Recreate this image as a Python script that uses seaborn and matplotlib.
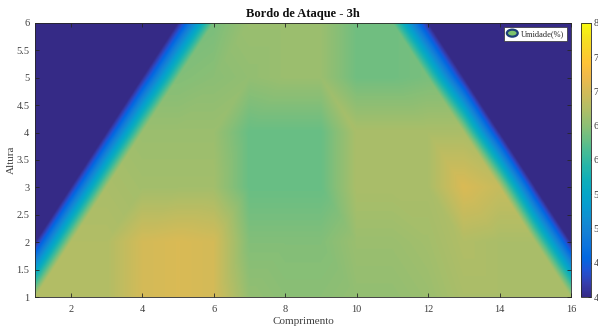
import numpy as np
import seaborn as sns
import matplotlib
matplotlib.use("Agg")
import matplotlib.pyplot as plt
import matplotlib.tri as mtri
from matplotlib.patches import Ellipse
from matplotlib.legend_handler import HandlerPatch

# Measurement grid: x = comprimento (1..16), y = altura (1..6)
comprimento = np.arange(1, 17)
altura = np.arange(1, 7)

# Humidity (%) at each node, one list per height; 4.0 marks points outside the leading edge
umidade_h1 = [6.75, 6.75, 6.75, 7.00, 7.05, 7.00, 6.55, 6.50, 6.50, 6.55, 6.55, 6.60, 6.70, 6.70, 6.70, 6.70]
umidade_h2 = [4.00, 6.75, 6.75, 7.00, 7.05, 7.00, 6.45, 6.45, 6.45, 6.60, 6.60, 6.65, 6.75, 6.70, 6.70, 4.00]
umidade_h3 = [4.00, 4.00, 6.70, 6.65, 6.65, 6.65, 6.30, 6.30, 6.30, 6.70, 6.70, 6.70, 7.05, 6.90, 4.00, 4.00]
umidade_h4 = [4.00, 4.00, 4.00, 6.60, 6.60, 6.60, 6.30, 6.30, 6.30, 6.70, 6.70, 6.70, 6.70, 4.00, 4.00, 4.00]
umidade_h5 = [4.00, 4.00, 4.00, 4.00, 6.45, 6.50, 6.55, 6.60, 6.60, 6.35, 6.35, 6.40, 4.00, 4.00, 4.00, 4.00]
umidade_h6 = [4.00, 4.00, 4.00, 4.00, 4.00, 6.40, 6.60, 6.60, 6.60, 6.35, 6.35, 4.00, 4.00, 4.00, 4.00, 4.00]

x_ticks = [2, 4, 6, 8, 10, 12, 14, 16]
y_ticks = [1, 1.5, 2, 2.5, 3, 3.5, 4, 4.5, 5, 5.5, 6]
cbar_ticks = [4, 4.5, 5, 5.5, 6, 6.5, 7, 7.5, 8]

# Parula-style colormap
parula_anchors = [
    (0.2081, 0.1663, 0.5292), (0.2081, 0.2386, 0.6771), (0.1253, 0.3242, 0.8303),
    (0.0060, 0.4086, 0.8828), (0.0498, 0.4586, 0.8641), (0.0779, 0.5040, 0.8384),
    (0.0641, 0.5570, 0.8240), (0.0265, 0.6137, 0.8135), (0.0228, 0.6535, 0.7768),
    (0.0590, 0.6838, 0.7254), (0.1453, 0.7098, 0.6646), (0.2586, 0.7317, 0.5954),
    (0.3953, 0.7459, 0.5244), (0.5300, 0.7491, 0.4661), (0.6473, 0.7456, 0.4188),
    (0.7525, 0.7384, 0.3768), (0.8507, 0.7299, 0.3360), (0.9450, 0.7261, 0.2886),
    (0.9990, 0.7653, 0.2164), (0.9789, 0.8271, 0.1633), (0.9589, 0.8949, 0.1132),
    (0.9763, 0.9831, 0.0538),
]

sns.set_theme(style="white")
plt.rcParams["font.family"] = ["Liberation Serif", "DejaVu Serif"]
parula = sns.blend_palette(parula_anchors, n_colors=256, as_cmap=True)

text_color = "#404040"

# Triangulated grid: diagonals follow the slanted edges on each side
Z = np.array([umidade_h1, umidade_h2, umidade_h3, umidade_h4, umidade_h5, umidade_h6])
nx, ny = len(comprimento), len(altura)
X, Y = np.meshgrid(comprimento, altura)
triangles = []
for j in range(ny - 1):
    for i in range(nx - 1):
        a = j * nx + i
        b = a + 1
        c = a + nx
        d = c + 1
        if comprimento[i] < 8.5:
            triangles += [[a, b, d], [a, d, c]]
        else:
            triangles += [[a, b, c], [b, d, c]]
tri = mtri.Triangulation(X.ravel(), Y.ravel(), np.array(triangles))
interp = mtri.LinearTriInterpolator(tri, Z.ravel())
xf = np.linspace(comprimento[0], comprimento[-1], 901)
yf = np.linspace(altura[0], altura[-1], 301)
XF, YF = np.meshgrid(xf, yf)
ZF = interp(XF, YF)

fig = plt.figure(figsize=(5.98, 3.33), dpi=100)
ax = fig.add_axes([0.0585, 0.1081, 0.8963, 0.8229])
cax = fig.add_axes([0.9716, 0.1081, 0.0167, 0.8229])

im = ax.imshow(ZF, origin="lower", extent=[1, 16, 1, 6], aspect="auto",
               cmap=parula, vmin=4, vmax=8, interpolation="bilinear")


class HandlerEllipse(HandlerPatch):
    def create_artists(self, legend, orig_handle, xdescent, ydescent,
                       width, height, fontsize, trans):
        center = (0.5 * width - 0.5 * xdescent, 0.5 * height - 0.5 * ydescent)
        p = Ellipse(xy=center, width=width, height=height * 1.2)
        self.update_prop(p, orig_handle, legend)
        p.set_transform(trans)
        return [p]


handle = Ellipse((0, 0), 1, 1, facecolor="#7cc46c", edgecolor="#1c3f78",
                 linewidth=1.6, label="Umidade(%)")
leg = ax.legend(handles=[handle], handler_map={Ellipse: HandlerEllipse()},
                loc="upper right", fontsize=6, frameon=True, fancybox=False,
                framealpha=1, borderpad=0.35, handlelength=1.3,
                handletextpad=0.35, borderaxespad=0.5)
leg.get_frame().set_edgecolor("#303030")
leg.get_frame().set_linewidth(0.5)

ax.set_xlim(1, 16)
ax.set_ylim(1, 6)
ax.set_xticks(x_ticks)
ax.set_yticks(y_ticks)
ax.set_yticklabels([f"{v:g}" for v in y_ticks])
ax.tick_params(direction="in", length=3, width=0.6, colors="#262626",
               labelcolor=text_color, labelsize=7.5, top=True, right=True,
               bottom=True, left=True, pad=4)
ax.tick_params(axis="x", pad=6)
for s in ax.spines.values():
    s.set_color("#262626")
    s.set_linewidth(0.6)

ax.set_title("Bordo de Ataque - 3h", fontsize=9, fontweight="bold",
             color="#111111", pad=4)
ax.set_xlabel("Comprimento", fontsize=8, color=text_color, labelpad=2)
ax.set_ylabel("Altura", fontsize=8, color=text_color, labelpad=0)

cb = fig.colorbar(im, cax=cax, ticks=cbar_ticks)
cb.ax.set_yticklabels([f"{v:g}" for v in cbar_ticks])
cb.ax.tick_params(direction="in", length=2, width=0.6, colors="#262626",
                  labelcolor=text_color, labelsize=7.5, pad=2)
cb.outline.set_edgecolor("#262626")
cb.outline.set_linewidth(0.6)

fig.savefig("out.png", dpi=100)
